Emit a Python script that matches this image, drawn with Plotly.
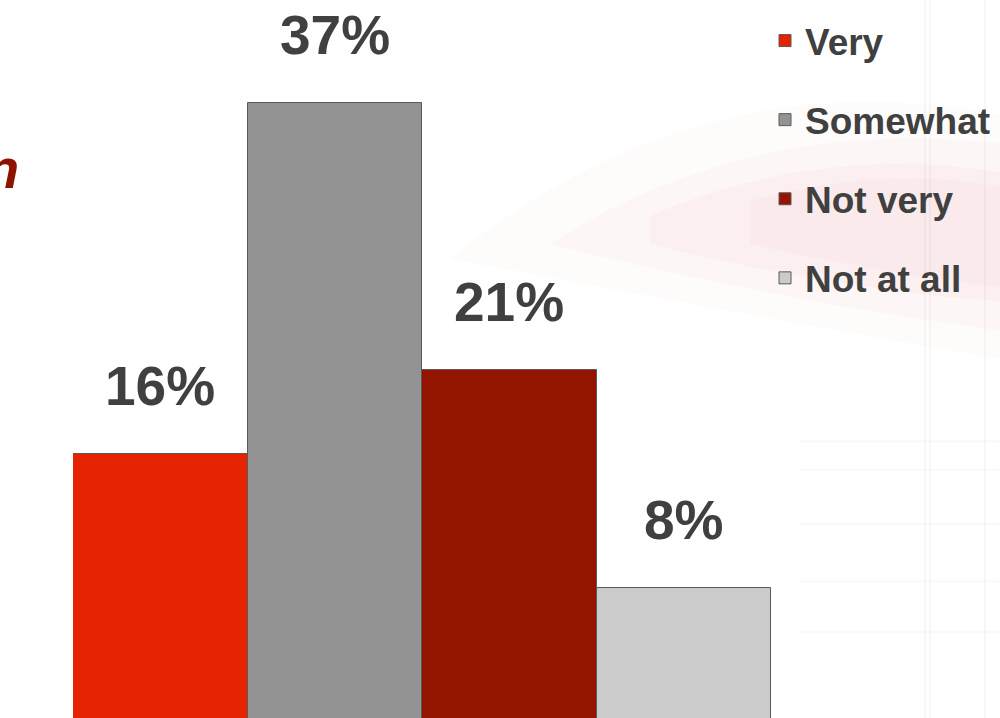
import plotly.graph_objects as go

categories = ["Very", "Somewhat", "Not very", "Not at all"]
values = [16, 37, 21, 8]
labels = ["16%", "37%", "21%", "8%"]
colors = ["#E62300", "#939393", "#931400", "#CBCBCB"]

FONT = "Liberation Sans Narrow, Arial Narrow, Liberation Sans, Arial, sans-serif"
TXT = "#404040"

fig = go.Figure()
for i, (c, v) in enumerate(zip(categories, values)):
    fig.add_trace(go.Bar(
        x=[c], y=[v], name=c,
        marker=dict(color=colors[i], line=dict(color="#5a5a5a", width=1)),
        legendgroup=c, hoverinfo="skip",
    ))

for c, v, t in zip(categories, values, labels):
    fig.add_annotation(x=c, y=v, text=t, showarrow=False,
                       xref="x", yref="y", yanchor="bottom", yshift=35,
                       font=dict(family=FONT, size=55, color=TXT, weight="bold"))

# clipped title fragment at the left edge
fig.add_annotation(x=0.021, y=1 - 202 / 718, xref="paper", yref="paper",
                   text="<i>n</i>", showarrow=False, xanchor="right",
                   yanchor="bottom", font=dict(family="Liberation Sans, Arial", size=56,
                                               color="#8E1200", weight="bold"))

# faint decorative background (pink haze and pale grid)
shapes = []
haze = [
    ("M 0.45 0.64 Q 0.7 0.92 1.0 0.84 L 1.0 0.50 Q 0.75 0.56 0.45 0.64 Z", 0.03),
    ("M 0.55 0.66 Q 0.75 0.84 1.0 0.80 L 1.0 0.54 Q 0.78 0.58 0.55 0.66 Z", 0.04),
    ("M 0.65 0.70 Q 0.82 0.80 1.0 0.76 L 1.0 0.58 Q 0.82 0.60 0.65 0.66 Z", 0.05),
    ("M 0.75 0.72 Q 0.88 0.77 1.0 0.74 L 1.0 0.60 Q 0.88 0.62 0.75 0.66 Z", 0.04),
]
for p, a in haze:
    shapes.append(dict(type="path", path=p, xref="paper", yref="paper",
                       fillcolor="rgba(235,120,135,%s)" % a, line_width=0, layer="below"))
for xv in [0.925, 0.93, 0.985]:
    shapes.append(dict(type="line", xref="paper", yref="paper", x0=xv, x1=xv, y0=0, y1=1,
                       line=dict(color="rgba(0,0,0,0.03)", width=2), layer="below"))
for yv in [0.385, 0.345, 0.27, 0.19, 0.12]:
    shapes.append(dict(type="line", xref="paper", yref="paper", x0=0.8, x1=1.0, y0=yv, y1=yv,
                       line=dict(color="rgba(0,0,0,0.025)", width=2), layer="below"))

fig.update_layout(
    width=1000, height=718,
    margin=dict(l=0, r=0, t=0, b=0, autoexpand=False),
    paper_bgcolor="white", plot_bgcolor="rgba(0,0,0,0)",
    barmode="overlay", bargap=0,
    showlegend=True,
    shapes=shapes,
    legend=dict(x=0.765, y=1 - 10 / 718, xanchor="left", yanchor="top",
                font=dict(family=FONT, size=37, color=TXT, weight="bold"),
                traceorder="grouped", tracegroupgap=28,
                bgcolor="rgba(0,0,0,0)"),
    xaxis=dict(domain=[0.073, 0.771], visible=False, categoryorder="array", categoryarray=categories),
    yaxis=dict(range=[0.2, 43.17], visible=False),
)
fig.write_html("out.html", config={"displayModeBar": False},
               post_script="document.body.style.margin='0';document.body.style.overflow='hidden';")
